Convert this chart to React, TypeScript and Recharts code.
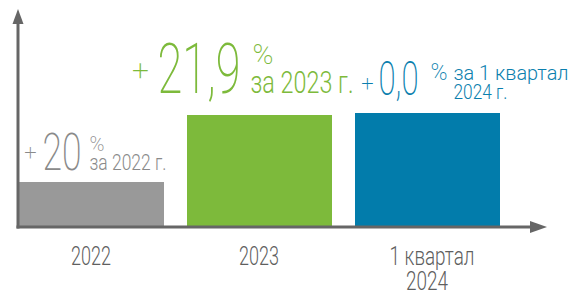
import { Bar, BarChart, Cell, LabelList, XAxis, YAxis } from "recharts";

const categories = ["2022", "2023", "1 квартал 2024"];
const tickLines = [["2022"], ["2023"], ["1 квартал", "2024"]];
const values = [44, 111, 113];
const growthValues = ["20", "21,9", "0,0"];
const periodLines = [["за 2022 г."], ["за 2023 г."], ["за 1 квартал", "2024 г."]];

const barColors = ["#999999", "#7dba3b", "#027cab"];
const textColors = ["#8a8a8a", "#7dba3b", "#0b7fae"];

const data = categories.map((category, i) => ({ category, value: values[i] }));

const FONT = "Roboto, Inter, sans-serif";

// label placement relative to the top-left corner of each bar
const labelLayout = [
  {
    plus: { dx: 11.5, dy: -30, size: 22 },
    big: { dx: 23.5, dy: -12, size: 52, w: 39 },
    pct: { dx: 70.5, dy: -31, size: 20, w: 15 },
    period: { dx: 70.5, dy: -12, size: 22, w: [77], gap: 0 },
  },
  {
    plus: { dx: -46.5, dy: -46, size: 30 },
    big: { dx: -29.5, dy: -22, size: 70, w: 83 },
    pct: { dx: 65.5, dy: -51, size: 28, w: 21 },
    period: { dx: 63.5, dy: -22, size: 32, w: [103], gap: 0 },
  },
  {
    plus: { dx: 12.5, dy: -30, size: 22 },
    big: { dx: 23.5, dy: -18, size: 48, w: 40 },
    pct: { dx: 75.5, dy: -33, size: 24, w: 17 },
    period: { dx: 98.5, dy: -33, size: 21, w: [115, 54], gap: 19 },
  },
];

const renderGrowth = (props: any) => {
  const { x, y, value } = props;
  let index = props.index;
  if (index === undefined) index = values.indexOf(value);
  const l = labelLayout[index];
  const bx = Number(x);
  const by = Number(y);
  return (
    <text fill={textColors[index]} fontFamily={FONT} fontWeight={300}>
      <tspan
        x={bx + l.plus.dx}
        y={by + l.plus.dy + l.plus.size * 0.35}
        fontSize={l.plus.size}
        fontWeight={200}
        textAnchor="middle"
      >
        +
      </tspan>
      <tspan
        x={bx + l.big.dx}
        y={by + l.big.dy}
        fontSize={l.big.size}
        fontWeight={200}
        textLength={l.big.w}
        lengthAdjust="spacingAndGlyphs"
      >
        {growthValues[index]}
      </tspan>
      <tspan
        x={bx + l.pct.dx}
        y={by + l.pct.dy}
        fontSize={l.pct.size}
        fontWeight={200}
        textLength={l.pct.w}
        lengthAdjust="spacingAndGlyphs"
      >
        %
      </tspan>
      {periodLines[index].map((line, j) => (
        <tspan
          key={j}
          x={bx + l.period.dx}
          y={by + l.period.dy + j * l.period.gap}
          fontSize={l.period.size}
          textLength={l.period.w[j]}
          lengthAdjust="spacingAndGlyphs"
        >
          {line}
        </tspan>
      ))}
    </text>
  );
};

const tickWidths = [[40], [40], [85, 42]];

const CategoryTick = (props: any) => {
  const { x, y, payload } = props;
  let i = categories.indexOf(payload.value);
  if (i < 0) i = payload.index;
  return (
    <text fill="#5f5f5f" fontFamily={FONT} fontWeight={300} fontSize={26} textAnchor="middle">
      {tickLines[i].map((line, j) => (
        <tspan
          key={j}
          x={x + (i === 2 && j === 0 ? 5 : 0)}
          y={y + 39 + j * 25}
          textLength={tickWidths[i][j]}
          lengthAdjust="spacingAndGlyphs"
        >
          {line}
        </tspan>
      ))}
    </text>
  );
};

export default function App() {
  return (
    <div style={{ position: "absolute", left: 0, top: 0, width: 574, height: 295, background: "#fff" }}>
      <BarChart
        width={574}
        height={295}
        data={data}
        margin={{ top: 10, right: 63, bottom: 0, left: 7 }}
      >
        <XAxis
          dataKey="category"
          axisLine={false}
          tickLine={false}
          tickSize={0}
          tickMargin={0}
          height={69}
          interval={0}
          tick={<CategoryTick />}
        />
        <YAxis hide domain={[0, 216]} />
        <Bar dataKey="value" barSize={145} isAnimationActive={false}>
          {data.map((d, i) => (
            <Cell key={d.category} fill={barColors[i]} />
          ))}
          <LabelList dataKey="value" content={renderGrowth} />
        </Bar>
      </BarChart>
      <svg
        width={574}
        height={295}
        style={{ position: "absolute", left: 0, top: 0, pointerEvents: "none" }}
      >
        <line x1={18} y1={22} x2={18} y2={228.5} stroke="#666" strokeWidth={3} />
        <polygon points="18,9 12.5,24 23.5,24" fill="#666" />
        <line x1={16.5} y1={227} x2={532} y2={227} stroke="#666" strokeWidth={3} />
        <polygon points="547,227 530,221 530,233" fill="#666" />
      </svg>
    </div>
  );
}
